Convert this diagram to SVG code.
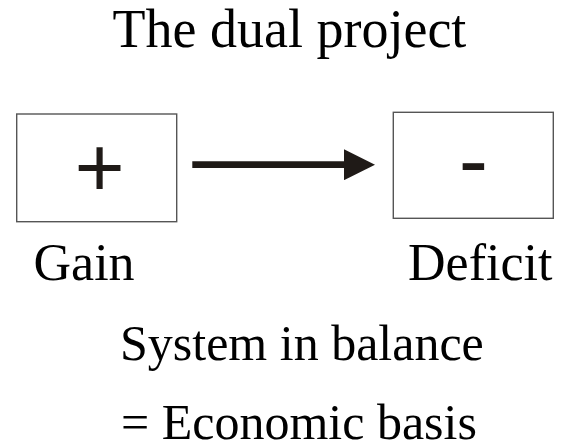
<svg xmlns="http://www.w3.org/2000/svg" width="564" height="443" viewBox="0 0 564 443">
  <style>
    .box { fill: #ffffff; stroke: #555555; stroke-width: 1.4; }
    .serif { font-family: "Liberation Serif", "Times New Roman", serif; fill: #000000; }
    .sym { font-family: "Liberation Sans", Arial, sans-serif; fill: #1f1a17; text-anchor: middle; }
    .conn { stroke: #1f1a17; stroke-width: 6.7; fill: none; }
  </style>
  <defs>
    <marker id="arrowhead" viewBox="0 0 31 31" markerWidth="31" markerHeight="31" refX="1" refY="15.5" markerUnits="userSpaceOnUse" orient="auto">
      <path d="M0,0 L31,15.5 L0,31 Z" fill="#1f1a17"/>
    </marker>
  </defs>
  <rect width="564" height="443" fill="#ffffff"/>
  <text class="serif" x="112.5" y="47" font-size="54">The dual project</text>
  <g id="node-gain">
    <rect class="box" x="16.7" y="114" width="160" height="107.7"/>
    <text class="sym" x="99.5" y="197" font-size="86">+</text>
    <text class="serif" x="33.5" y="280" font-size="52">Gain</text>
  </g>
  <g id="node-deficit">
    <rect class="box" x="393.3" y="112.3" width="160" height="106"/>
    <text class="sym" x="473.3" y="190" font-size="88">-</text>
    <text class="serif" x="408" y="280" font-size="52">Deficit</text>
  </g>
  <g id="connectors">
    <line class="conn" x1="192.3" y1="164.7" x2="345" y2="164.7" marker-end="url(#arrowhead)"/>
  </g>
  <g id="caption">
    <text class="serif" x="120" y="359.5" font-size="50">System in balance</text>
    <text class="serif" x="121" y="438.5" font-size="50">= Economic basis</text>
  </g>
</svg>
